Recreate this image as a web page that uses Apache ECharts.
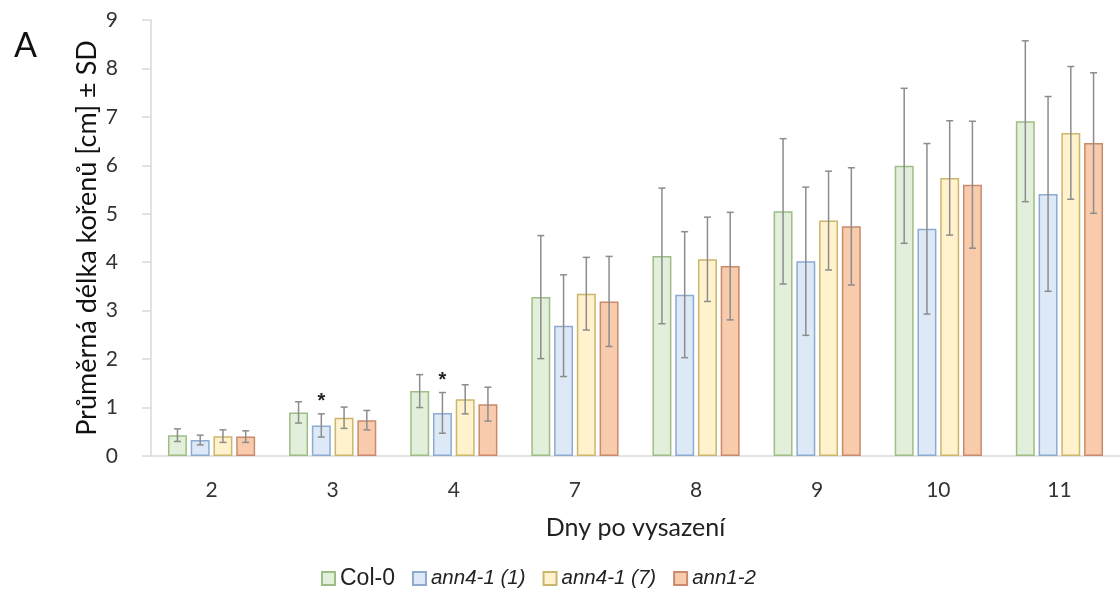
<!DOCTYPE html>
<html>
<head>
<meta charset="utf-8">
<script src="https://cdn.jsdelivr.net/npm/echarts@6/dist/echarts.min.js"></script>
<style>html,body{margin:0;padding:0;background:#fff;}#c{width:1120px;height:598px;}</style>
</head>
<body>
<div id="c"></div>
<script>
const days = ['2','3','4','7','8','9','10','11'];
const seriesNames = ['Col-0','ann4-1 (1)','ann4-1 (7)','ann1-2'];
const col0     = [0.43,0.90,1.34,3.28,4.13,5.05,5.99,6.91];
const col0Sd   = [0.13,0.22,0.34,1.27,1.40,1.50,1.60,1.66];
const ann41a   = [0.33,0.63,0.89,2.69,3.33,4.02,4.69,5.41];
const ann41aSd = [0.10,0.24,0.42,1.05,1.30,1.53,1.76,2.01];
const ann41b   = [0.41,0.79,1.17,3.35,4.06,4.86,5.74,6.67];
const ann41bSd = [0.13,0.22,0.30,0.75,0.87,1.02,1.18,1.37];
const ann12    = [0.40,0.74,1.07,3.19,3.92,4.74,5.60,6.46];
const ann12Sd  = [0.12,0.20,0.35,0.93,1.11,1.21,1.31,1.45];
const ann41aSig = ['','*','*','','','','',''];
const yTicks = [0,1,2,3,4,5,6,7,8,9];

const means = [col0, ann41a, ann41b, ann12];
const sds = [col0Sd, ann41aSd, ann41bSd, ann12Sd];
const sigs = [null, ann41aSig, null, null];
const fills = ['#e2efda','#dde9f6','#fff2cc','#f8cbad'];
const borders = ['#9fbd86','#8eabcf','#cbb66e','#c98b6b'];
const CAT_GAP = 0.28, BAR_GAP = 0.2, N = 4;

const chart = echarts.init(document.getElementById('c'));
const series = [];
means.forEach((m, s) => {
  series.push({
    name: seriesNames[s], type: 'bar', data: m,
    barCategoryGap: (CAT_GAP*100)+'%', barGap: (BAR_GAP*100)+'%',
    itemStyle: {color: fills[s], borderColor: borders[s], borderWidth: 1.5},
    emphasis: {disabled: true}, z: 2
  });
});
means.forEach((m, s) => {
  series.push({
    name: 'err' + s, type: 'custom', z: 5, silent: true,
    data: m.map((v, i) => [i, v, sds[s][i]]),
    renderItem: function (params, api) {
      const xi = api.value(0), mean = api.value(1), sd = api.value(2);
      const band = api.size([1, 0])[0];
      const w = band * (1 - CAT_GAP) / (N + (N - 1) * BAR_GAP);
      const off = -band * (1 - CAT_GAP) / 2 + s * (1 + BAR_GAP) * w + w / 2;
      const c = api.coord([xi, mean]);
      const x = c[0] + off;
      const top = api.coord([xi, mean + sd])[1];
      const bot = api.coord([xi, Math.max(0, mean - sd)])[1];
      const cap = 3.5;
      const st = {stroke: '#8c8c8c', lineWidth: 1.5};
      const children = [
        {type: 'line', shape: {x1: x, y1: top, x2: x, y2: bot}, style: st},
        {type: 'line', shape: {x1: x - cap, y1: top, x2: x + cap, y2: top}, style: st},
        {type: 'line', shape: {x1: x - cap, y1: bot, x2: x + cap, y2: bot}, style: st}
      ];
      if (sigs[s] && sigs[s][xi]) {
        children.push({type: 'text', x: x, y: top - 12, style: {text: sigs[s][xi], fill: '#222', font: 'bold 20px "Liberation Sans"', align: 'center', verticalAlign: 'middle'}});
      }
      return {type: 'group', children: children};
    }
  });
});

chart.setOption({
  animation: false,
  backgroundColor: '#fff',
  title: {text: 'A', left: 9, top: 24, textStyle: {fontFamily: 'Lato', fontSize: 34, fontWeight: 'normal', color: '#111'}},
  grid: {left: 151, top: 20, width: 971, height: 436, containLabel: false},
  legend: {
    data: seriesNames, left: 316, top: 562, icon: 'rect', itemWidth: 13, itemHeight: 13, itemGap: 17,
    textStyle: {fontFamily: 'Liberation Sans', fontSize: 23, color: '#222', rich: {i: {fontStyle: 'italic', fontFamily: 'Liberation Sans', fontSize: 20.5, color: '#222'}}},
    formatter: n => n === 'Col-0' ? n : '{i|' + n + '}'
  },
  xAxis: {
    type: 'category', data: days,
    name: 'Dny po vysazení', nameLocation: 'middle', nameGap: 59, nameMoveOverlap: false,
    nameTextStyle: {fontFamily: 'Lato', fontSize: 25, color: '#222'},
    axisLine: {lineStyle: {color: '#d9d9d9', width: 1.5}},
    axisTick: {show: false},
    axisLabel: {fontFamily: 'Lato', fontSize: 21, color: '#333', margin: 24}
  },
  yAxis: {
    type: 'value', min: yTicks[0], max: yTicks[yTicks.length - 1], interval: 1,
    name: 'Průměrná délka kořenů [cm] ± SD', nameLocation: 'middle', nameGap: 50, nameRotate: 90, nameMoveOverlap: false,
    nameTextStyle: {fontFamily: 'Lato', fontSize: 27, color: '#111'},
    axisLine: {show: true, lineStyle: {color: '#d9d9d9', width: 1.5}},
    axisTick: {show: true, length: 9, lineStyle: {color: '#d9d9d9', width: 1.5}},
    splitLine: {show: false},
    axisLabel: {fontFamily: 'Lato', fontSize: 21, color: '#333', margin: 33}
  },
  series: series
});
</script>
</body>
</html>
